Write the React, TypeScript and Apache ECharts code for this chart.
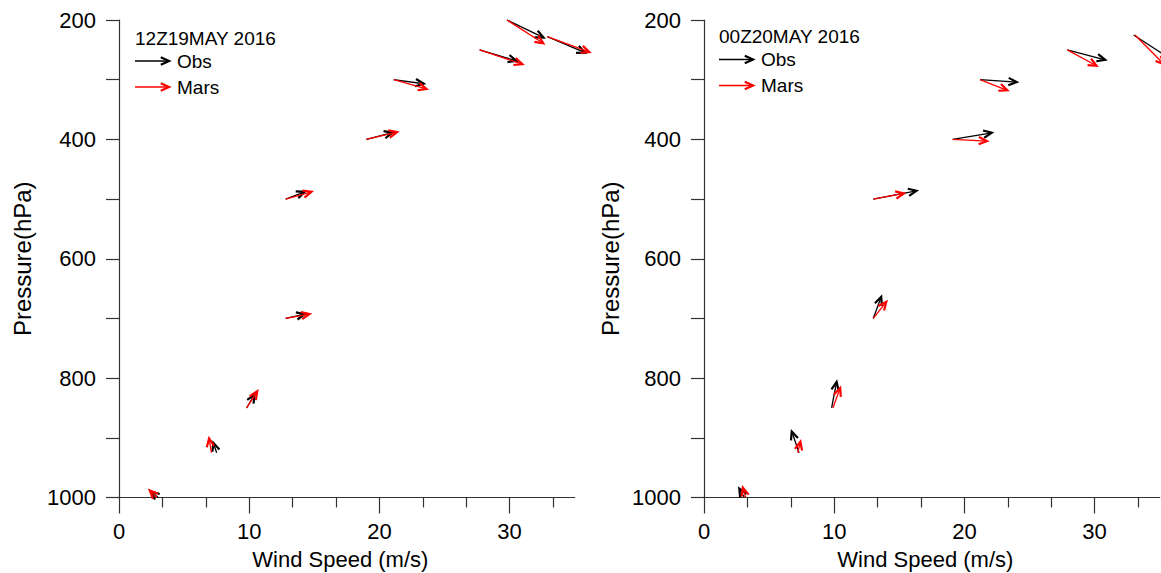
import React, { useEffect, useRef } from "react";
import * as echarts from "echarts";

// ---------- data ----------
const FONT = "'Liberation Sans', Arial, sans-serif";

const xMajorTicks = [0, 10, 20, 30];
const xMinorTicks = [10 / 3, 20 / 3, 40 / 3, 50 / 3, 70 / 3, 80 / 3, 100 / 3];
const yTicks = [200, 300, 400, 500, 600, 700, 800, 900, 1000];
const yLabels = [200, 400, 600, 800, 1000];

const panelTitles = ["12Z19MAY 2016", "00Z20MAY 2016"];

// Panel 1 (12Z19MAY 2016)
const p1Pressure = [200, 228, 250, 300, 400, 500, 700, 850, 925, 1000];
const p1ObsSpeed = [29.8, 32.9, 27.7, 21.1, 19.0, 12.8, 12.8, 9.8, 7.5, 3.0];
const p1ObsU = [26.1, 26.9, 26.2, 21.4, 18.6, 13.6, 13.6, 5.7, -2.4, -5.0];
const p1ObsV = [-12.6, -11.4, -7.9, -2.9, 4.8, 5.2, 3.1, 9.5, 7.1, 4.3];
const p1MarsSpeed = [29.8, 32.9, 27.7, 21.1, 19.0, 12.8, 12.8, 9.8, 7.1, 2.9];
const p1MarsU = [25.9, 30.0, 30.5, 23.4, 21.9, 18.4, 17.1, 7.6, -1.7, -5.0];
const p1MarsV = [-16.6, -11.0, -10.2, -6.6, 5.2, 5.2, 3.1, 11.9, 10.2, 5.0];

// Panel 2 (00Z20MAY 2016)
const p2Pressure = [225, 250, 300, 400, 500, 700, 850, 925, 1000];
const p2ObsSpeed = [33.0, 27.9, 21.2, 19.1, 13.0, 13.0, 9.8, 7.3, 3.1];
const p2ObsU = [26.9, 27.1, 26.2, 27.9, 30.9, 5.7, 3.6, -5.2, -3.6];
const p2ObsV = [-17.5, -7.1, -1.7, 4.7, 5.9, 15.5, 18.6, 15.2, 6.4];
const p2MarsSpeed = [33.1, 27.9, 21.2, 19.1, 13.0, 13.0, 9.9, 7.2, 3.2];
const p2MarsU = [20.7, 20.9, 19.5, 24.5, 21.9, 9.3, 5.2, 1.9, -2.0];
const p2MarsV = [-20.9, -11.4, -7.6, -1.2, 4.0, 11.9, 14.3, 7.9, 7.0];

// ---------- helpers ----------
const PX_PER_MS = 1.4;
const OBS_COLOR = "#000000";
const MARS_COLOR = "#ff0000";
const AXIS_COLOR = "#333333";

function zip(p: number[], s: number[], u: number[], v: number[]) {
  return p.map((pp, i) => [s[i], pp, u[i], v[i]]);
}

function arrowShapes(x0: number, y0: number, x1: number, y1: number, color: string) {
  const ang = Math.atan2(y1 - y0, x1 - x0);
  const hl = 9;
  const ha = 0.42;
  const b1 = [x1 - hl * Math.cos(ang - ha), y1 - hl * Math.sin(ang - ha)];
  const b2 = [x1 - hl * Math.cos(ang + ha), y1 - hl * Math.sin(ang + ha)];
  return [
    { type: "line", shape: { x1: x0, y1: y0, x2: x1, y2: y1 }, style: { stroke: color, lineWidth: 1.3 } },
    { type: "polyline", shape: { points: [b1, [x1, y1], b2] }, style: { stroke: color, lineWidth: 2.2, fill: null } },
  ];
}

function renderArrow(color: string) {
  return (_params: any, api: any) => {
    const s = api.value(0);
    const p = api.value(1);
    const u = api.value(2);
    const v = api.value(3);
    const c = api.coord([s, p]);
    const x1 = c[0] + u * PX_PER_MS;
    const y1 = c[1] - v * PX_PER_MS;
    return { type: "group", children: arrowShapes(c[0], c[1], x1, y1, color) };
  };
}

const grids = [
  { left: 119, top: 20, width: 455.7, height: 477.5, outerBoundsMode: "none", containLabel: false },
  { left: 704, top: 20, width: 455.7, height: 477.5, outerBoundsMode: "none", containLabel: false },
];

function buildOption() {
  const xAxes: any[] = [];
  const yAxes: any[] = [];
  const yNameGaps = [85, 82];
  grids.forEach((_g, i) => {
    xAxes.push({
      gridIndex: i,
      type: "value",
      min: 0,
      max: 35,
      name: "Wind Speed (m/s)",
      nameLocation: "middle",
      nameGap: 51,
      nameTextStyle: { fontFamily: FONT, fontSize: 22, color: "#000", padding: [0, 13, 0, 0] },
      axisLine: { show: true, lineStyle: { color: AXIS_COLOR, width: 1.2 } },
      axisTick: { show: true, customValues: xMajorTicks, length: 16, lineStyle: { color: AXIS_COLOR, width: 1.2 } },
      axisLabel: {
        customValues: xMajorTicks,
        formatter: (v: number) => String(v),
        fontFamily: FONT,
        fontSize: 22,
        color: "#000",
        margin: 23,
      },
      splitLine: { show: false },
    });
    xAxes.push({
      gridIndex: i,
      type: "value",
      min: 0,
      max: 35,
      position: "bottom",
      axisLine: { show: false },
      axisTick: { show: true, customValues: xMinorTicks, length: 10, lineStyle: { color: AXIS_COLOR, width: 1.2 } },
      axisLabel: { show: false },
      splitLine: { show: false },
    });
    yAxes.push({
      gridIndex: i,
      type: "value",
      inverse: true,
      min: 200,
      max: 1000,
      name: "Pressure(hPa)",
      nameLocation: "middle",
      nameGap: yNameGaps[i],
      nameRotate: 90,
      nameTextStyle: { fontFamily: FONT, fontSize: 24, color: "#000" },
      axisLine: { show: true, lineStyle: { color: AXIS_COLOR, width: 1.2 } },
      axisTick: { show: true, customValues: yTicks, length: 13, lineStyle: { color: AXIS_COLOR, width: 1.2 } },
      axisLabel: {
        customValues: yLabels,
        formatter: (v: number) => String(v),
        fontFamily: FONT,
        fontSize: 22,
        color: "#000",
        margin: 23,
      },
      splitLine: { show: false },
    });
  });

  const seriesDefs = [
    { name: "Obs", grid: 0, color: OBS_COLOR, data: zip(p1Pressure, p1ObsSpeed, p1ObsU, p1ObsV) },
    { name: "Mars", grid: 0, color: MARS_COLOR, data: zip(p1Pressure, p1MarsSpeed, p1MarsU, p1MarsV) },
    { name: "Obs", grid: 1, color: OBS_COLOR, data: zip(p2Pressure, p2ObsSpeed, p2ObsU, p2ObsV) },
    { name: "Mars", grid: 1, color: MARS_COLOR, data: zip(p2Pressure, p2MarsSpeed, p2MarsU, p2MarsV) },
  ];

  const series = seriesDefs.map((d) => ({
    type: "custom",
    name: d.name,
    xAxisIndex: d.grid * 2,
    yAxisIndex: d.grid,
    clip: false,
    encode: { x: 0, y: 1 },
    renderItem: renderArrow(d.color),
    data: d.data,
  }));

  // legends (title + arrow samples) inside each panel
  const legendPos = [
    { x: 135, titleY: 38.5, obsY: 61, marsY: 87 },
    { x: 719, titleY: 36.5, obsY: 59.5, marsY: 85.5 },
  ];
  const graphics: any[] = [];
  legendPos.forEach((lp, i) => {
    graphics.push({
      type: "text",
      x: lp.x,
      y: lp.titleY,
      style: { text: panelTitles[i], font: `19px ${FONT}`, fill: "#000", verticalAlign: "middle" },
    });
    graphics.push({ type: "group", children: arrowShapes(lp.x, lp.obsY, lp.x + 34, lp.obsY, OBS_COLOR) });
    graphics.push({ type: "group", children: arrowShapes(lp.x, lp.marsY, lp.x + 34, lp.marsY, MARS_COLOR) });
    graphics.push({
      type: "text",
      x: lp.x + 42,
      y: lp.obsY,
      style: { text: "Obs", font: `19px ${FONT}`, fill: "#000", verticalAlign: "middle" },
    });
    graphics.push({
      type: "text",
      x: lp.x + 42,
      y: lp.marsY,
      style: { text: "Mars", font: `19px ${FONT}`, fill: "#000", verticalAlign: "middle" },
    });
  });

  return {
    animation: false,
    backgroundColor: "#ffffff",
    grid: grids,
    xAxis: xAxes,
    yAxis: yAxes,
    series,
    graphic: graphics,
  };
}

export default function App() {
  const ref = useRef<HTMLDivElement>(null);
  useEffect(() => {
    if (!ref.current) return;
    const chart = echarts.init(ref.current, null, { renderer: "svg" });
    chart.setOption(buildOption() as any);
    return () => chart.dispose();
  }, []);
  return (
    <div
      ref={ref}
      style={{ position: "fixed", left: 0, top: 0, width: 1161, height: 573, background: "#fff" }}
    />
  );
}
